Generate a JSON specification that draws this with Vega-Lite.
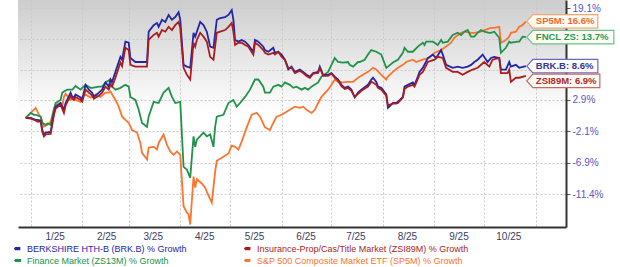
{
"$schema":"https://vega.github.io/schema/vega-lite/v6.json",
"width":548,"height":227,
"autosize":{"type":"none"},
"padding":{"left":18,"top":0,"right":54,"bottom":40},
"background":"#ffffff",
"config":{"view":{"stroke":null,"fill":{"gradient":"linear","x1":0,"y1":0,"x2":0,"y2":1,"stops":[{"offset":0,"color":"#cdcdcd"},{"offset":0.5,"color":"#ffffff"},{"offset":1,"color":"#ffffff"}]}},"font":"Liberation Sans"},
"datasets":{
"ends":[{"s":"sp5","d":"2025-10-26","v":116.6,"t":"SP5M: 16.6%"},{"s":"fin","d":"2025-10-26","v":113.7,"t":"FNCL ZS: 13.7%"},{"s":"brk","d":"2025-10-26","v":108.6,"t":"BRK.B: 8.6%"},{"s":"zsi","d":"2025-10-26","v":106.9,"t":"ZSI89M: 6.9%"}],
"series":[
{"s":"sp5","d":"2024-12-29","v":100},{"s":"sp5","d":"2025-01-01","v":100.8},{"s":"sp5","d":"2025-01-04","v":101.6},{"s":"sp5","d":"2025-01-06","v":100.5},{"s":"sp5","d":"2025-01-07","v":100.2},{"s":"sp5","d":"2025-01-09","v":98.6},{"s":"sp5","d":"2025-01-11","v":98.9},{"s":"sp5","d":"2025-01-13","v":99.4},{"s":"sp5","d":"2025-01-15","v":101.5},{"s":"sp5","d":"2025-01-16","v":102.1},{"s":"sp5","d":"2025-01-19","v":102.4},{"s":"sp5","d":"2025-01-20","v":101.8},{"s":"sp5","d":"2025-01-21","v":103.4},{"s":"sp5","d":"2025-01-22","v":103.9},{"s":"sp5","d":"2025-01-25","v":102.9},{"s":"sp5","d":"2025-01-27","v":103.4},{"s":"sp5","d":"2025-01-28","v":102.9},{"s":"sp5","d":"2025-01-31","v":102.6},{"s":"sp5","d":"2025-02-01","v":103.4},{"s":"sp5","d":"2025-02-03","v":103.8},{"s":"sp5","d":"2025-02-06","v":103.3},{"s":"sp5","d":"2025-02-07","v":103.4},{"s":"sp5","d":"2025-02-09","v":103.8},{"s":"sp5","d":"2025-02-12","v":103.4},{"s":"sp5","d":"2025-02-15","v":104.1},{"s":"sp5","d":"2025-02-17","v":104.1},{"s":"sp5","d":"2025-02-18","v":104.3},{"s":"sp5","d":"2025-02-21","v":102.9},{"s":"sp5","d":"2025-02-23","v":101.8},{"s":"sp5","d":"2025-02-25","v":100.2},{"s":"sp5","d":"2025-03-01","v":99.2},{"s":"sp5","d":"2025-03-03","v":98.1},{"s":"sp5","d":"2025-03-06","v":97.7},{"s":"sp5","d":"2025-03-08","v":96.1},{"s":"sp5","d":"2025-03-09","v":94.6},{"s":"sp5","d":"2025-03-12","v":93.6},{"s":"sp5","d":"2025-03-13","v":95.4},{"s":"sp5","d":"2025-03-16","v":95.5},{"s":"sp5","d":"2025-03-18","v":95.1},{"s":"sp5","d":"2025-03-19","v":96.1},{"s":"sp5","d":"2025-03-22","v":97.4},{"s":"sp5","d":"2025-03-24","v":95.8},{"s":"sp5","d":"2025-03-26","v":94.8},{"s":"sp5","d":"2025-03-28","v":94.3},{"s":"sp5","d":"2025-03-30","v":94.8},{"s":"sp5","d":"2025-04-01","v":94.3},{"s":"sp5","d":"2025-04-03","v":86.9},{"s":"sp5","d":"2025-04-05","v":86.0},{"s":"sp5","d":"2025-04-06","v":85.8},{"s":"sp5","d":"2025-04-07","v":84.4},{"s":"sp5","d":"2025-04-09","v":91.1},{"s":"sp5","d":"2025-04-10","v":89.5},{"s":"sp5","d":"2025-04-11","v":90.7},{"s":"sp5","d":"2025-04-14","v":90.1},{"s":"sp5","d":"2025-04-16","v":89.5},{"s":"sp5","d":"2025-04-17","v":88.9},{"s":"sp5","d":"2025-04-20","v":87.4},{"s":"sp5","d":"2025-04-22","v":91.8},{"s":"sp5","d":"2025-04-23","v":93.4},{"s":"sp5","d":"2025-04-27","v":94.0},{"s":"sp5","d":"2025-04-30","v":94.5},{"s":"sp5","d":"2025-05-02","v":95.7},{"s":"sp5","d":"2025-05-04","v":95.5},{"s":"sp5","d":"2025-05-06","v":95.1},{"s":"sp5","d":"2025-05-08","v":96.3},{"s":"sp5","d":"2025-05-11","v":98.5},{"s":"sp5","d":"2025-05-14","v":100.5},{"s":"sp5","d":"2025-05-17","v":100.8},{"s":"sp5","d":"2025-05-19","v":100.2},{"s":"sp5","d":"2025-05-22","v":98.5},{"s":"sp5","d":"2025-05-25","v":98.1},{"s":"sp5","d":"2025-05-27","v":99.2},{"s":"sp5","d":"2025-05-29","v":100.2},{"s":"sp5","d":"2025-06-01","v":100.5},{"s":"sp5","d":"2025-06-04","v":101.0},{"s":"sp5","d":"2025-06-06","v":101.3},{"s":"sp5","d":"2025-06-09","v":101.8},{"s":"sp5","d":"2025-06-12","v":101.6},{"s":"sp5","d":"2025-06-14","v":101.8},{"s":"sp5","d":"2025-06-16","v":101.3},{"s":"sp5","d":"2025-06-19","v":100.8},{"s":"sp5","d":"2025-06-21","v":101.3},{"s":"sp5","d":"2025-06-23","v":102.4},{"s":"sp5","d":"2025-06-25","v":103.4},{"s":"sp5","d":"2025-06-29","v":104.6},{"s":"sp5","d":"2025-07-01","v":105.4},{"s":"sp5","d":"2025-07-03","v":106.3},{"s":"sp5","d":"2025-07-05","v":105.9},{"s":"sp5","d":"2025-07-08","v":105.8},{"s":"sp5","d":"2025-07-11","v":105.9},{"s":"sp5","d":"2025-07-14","v":105.9},{"s":"sp5","d":"2025-07-17","v":106.6},{"s":"sp5","d":"2025-07-20","v":107.1},{"s":"sp5","d":"2025-07-23","v":107.6},{"s":"sp5","d":"2025-07-26","v":108.3},{"s":"sp5","d":"2025-07-28","v":108.0},{"s":"sp5","d":"2025-07-31","v":107.1},{"s":"sp5","d":"2025-08-03","v":106.3},{"s":"sp5","d":"2025-08-04","v":106.8},{"s":"sp5","d":"2025-08-07","v":107.6},{"s":"sp5","d":"2025-08-10","v":108.3},{"s":"sp5","d":"2025-08-13","v":108.8},{"s":"sp5","d":"2025-08-15","v":109.3},{"s":"sp5","d":"2025-08-19","v":109.7},{"s":"sp5","d":"2025-08-21","v":109.3},{"s":"sp5","d":"2025-08-25","v":109.7},{"s":"sp5","d":"2025-08-27","v":109.9},{"s":"sp5","d":"2025-08-29","v":110.0},{"s":"sp5","d":"2025-09-01","v":110.9},{"s":"sp5","d":"2025-09-05","v":111.4},{"s":"sp5","d":"2025-09-07","v":111.8},{"s":"sp5","d":"2025-09-11","v":112.7},{"s":"sp5","d":"2025-09-13","v":113.6},{"s":"sp5","d":"2025-09-17","v":114.5},{"s":"sp5","d":"2025-09-19","v":114.7},{"s":"sp5","d":"2025-09-23","v":114.5},{"s":"sp5","d":"2025-09-25","v":114.5},{"s":"sp5","d":"2025-09-29","v":114.7},{"s":"sp5","d":"2025-10-01","v":115.0},{"s":"sp5","d":"2025-10-05","v":115.4},{"s":"sp5","d":"2025-10-07","v":115.4},{"s":"sp5","d":"2025-10-10","v":115.6},{"s":"sp5","d":"2025-10-11","v":112.7},{"s":"sp5","d":"2025-10-14","v":113.2},{"s":"sp5","d":"2025-10-16","v":113.8},{"s":"sp5","d":"2025-10-17","v":114.5},{"s":"sp5","d":"2025-10-20","v":114.7},{"s":"sp5","d":"2025-10-22","v":115.6},{"s":"sp5","d":"2025-10-24","v":115.9},{"s":"sp5","d":"2025-10-26","v":116.6},
{"s":"fin","d":"2024-12-29","v":100},{"s":"fin","d":"2025-01-01","v":100.8},{"s":"fin","d":"2025-01-03","v":100.5},{"s":"fin","d":"2025-01-04","v":100.5},{"s":"fin","d":"2025-01-07","v":100.2},{"s":"fin","d":"2025-01-08","v":99.2},{"s":"fin","d":"2025-01-10","v":98.9},{"s":"fin","d":"2025-01-11","v":99.1},{"s":"fin","d":"2025-01-13","v":98.9},{"s":"fin","d":"2025-01-15","v":101.3},{"s":"fin","d":"2025-01-16","v":102.4},{"s":"fin","d":"2025-01-19","v":102.9},{"s":"fin","d":"2025-01-20","v":104.1},{"s":"fin","d":"2025-01-21","v":104.3},{"s":"fin","d":"2025-01-23","v":104.6},{"s":"fin","d":"2025-01-26","v":104.6},{"s":"fin","d":"2025-01-27","v":104.9},{"s":"fin","d":"2025-01-28","v":105.2},{"s":"fin","d":"2025-01-31","v":104.6},{"s":"fin","d":"2025-02-01","v":104.9},{"s":"fin","d":"2025-02-03","v":105.4},{"s":"fin","d":"2025-02-06","v":104.9},{"s":"fin","d":"2025-02-07","v":104.9},{"s":"fin","d":"2025-02-11","v":105.1},{"s":"fin","d":"2025-02-13","v":105.1},{"s":"fin","d":"2025-02-15","v":105.8},{"s":"fin","d":"2025-02-18","v":106.3},{"s":"fin","d":"2025-02-19","v":105.1},{"s":"fin","d":"2025-02-21","v":104.6},{"s":"fin","d":"2025-02-24","v":104.9},{"s":"fin","d":"2025-02-27","v":105.4},{"s":"fin","d":"2025-03-01","v":105.1},{"s":"fin","d":"2025-03-02","v":103.4},{"s":"fin","d":"2025-03-05","v":102.9},{"s":"fin","d":"2025-03-07","v":101.3},{"s":"fin","d":"2025-03-09","v":99.2},{"s":"fin","d":"2025-03-12","v":98.6},{"s":"fin","d":"2025-03-13","v":100.2},{"s":"fin","d":"2025-03-16","v":102.6},{"s":"fin","d":"2025-03-19","v":102.4},{"s":"fin","d":"2025-03-22","v":104.1},{"s":"fin","d":"2025-03-25","v":104.9},{"s":"fin","d":"2025-03-27","v":103.4},{"s":"fin","d":"2025-03-29","v":102.4},{"s":"fin","d":"2025-04-01","v":102.6},{"s":"fin","d":"2025-04-03","v":92.5},{"s":"fin","d":"2025-04-05","v":92.1},{"s":"fin","d":"2025-04-07","v":90.9},{"s":"fin","d":"2025-04-09","v":97.1},{"s":"fin","d":"2025-04-10","v":95.5},{"s":"fin","d":"2025-04-11","v":96.6},{"s":"fin","d":"2025-04-15","v":97.7},{"s":"fin","d":"2025-04-17","v":97.1},{"s":"fin","d":"2025-04-19","v":97.4},{"s":"fin","d":"2025-04-21","v":95.5},{"s":"fin","d":"2025-04-22","v":98.6},{"s":"fin","d":"2025-04-23","v":100.2},{"s":"fin","d":"2025-04-27","v":100.5},{"s":"fin","d":"2025-04-30","v":102.4},{"s":"fin","d":"2025-05-03","v":102.9},{"s":"fin","d":"2025-05-05","v":101.8},{"s":"fin","d":"2025-05-07","v":102.4},{"s":"fin","d":"2025-05-10","v":103.4},{"s":"fin","d":"2025-05-13","v":104.6},{"s":"fin","d":"2025-05-16","v":106.3},{"s":"fin","d":"2025-05-18","v":106.3},{"s":"fin","d":"2025-05-21","v":105.1},{"s":"fin","d":"2025-05-22","v":104.1},{"s":"fin","d":"2025-05-25","v":104.1},{"s":"fin","d":"2025-05-27","v":105.1},{"s":"fin","d":"2025-05-30","v":105.4},{"s":"fin","d":"2025-06-01","v":105.1},{"s":"fin","d":"2025-06-03","v":105.8},{"s":"fin","d":"2025-06-06","v":105.4},{"s":"fin","d":"2025-06-08","v":104.9},{"s":"fin","d":"2025-06-10","v":105.1},{"s":"fin","d":"2025-06-13","v":104.6},{"s":"fin","d":"2025-06-15","v":104.9},{"s":"fin","d":"2025-06-17","v":104.6},{"s":"fin","d":"2025-06-19","v":105.1},{"s":"fin","d":"2025-06-23","v":105.8},{"s":"fin","d":"2025-06-25","v":106.8},{"s":"fin","d":"2025-06-29","v":107.6},{"s":"fin","d":"2025-07-01","v":108.8},{"s":"fin","d":"2025-07-03","v":110.0},{"s":"fin","d":"2025-07-05","v":109.3},{"s":"fin","d":"2025-07-08","v":109.2},{"s":"fin","d":"2025-07-11","v":109.3},{"s":"fin","d":"2025-07-12","v":108.8},{"s":"fin","d":"2025-07-14","v":108.5},{"s":"fin","d":"2025-07-17","v":109.3},{"s":"fin","d":"2025-07-18","v":109.3},{"s":"fin","d":"2025-07-21","v":109.7},{"s":"fin","d":"2025-07-23","v":110.6},{"s":"fin","d":"2025-07-25","v":111.4},{"s":"fin","d":"2025-07-28","v":111.1},{"s":"fin","d":"2025-07-31","v":110.6},{"s":"fin","d":"2025-08-03","v":108.3},{"s":"fin","d":"2025-08-04","v":108.5},{"s":"fin","d":"2025-08-07","v":109.2},{"s":"fin","d":"2025-08-10","v":109.7},{"s":"fin","d":"2025-08-13","v":110.9},{"s":"fin","d":"2025-08-14","v":111.8},{"s":"fin","d":"2025-08-16","v":111.1},{"s":"fin","d":"2025-08-19","v":111.1},{"s":"fin","d":"2025-08-22","v":112.0},{"s":"fin","d":"2025-08-25","v":112.7},{"s":"fin","d":"2025-08-26","v":112.3},{"s":"fin","d":"2025-08-27","v":112.9},{"s":"fin","d":"2025-08-31","v":112.9},{"s":"fin","d":"2025-09-01","v":112.7},{"s":"fin","d":"2025-09-03","v":112.3},{"s":"fin","d":"2025-09-05","v":113.2},{"s":"fin","d":"2025-09-06","v":112.7},{"s":"fin","d":"2025-09-09","v":112.9},{"s":"fin","d":"2025-09-12","v":114.1},{"s":"fin","d":"2025-09-15","v":114.5},{"s":"fin","d":"2025-09-17","v":114.1},{"s":"fin","d":"2025-09-19","v":114.7},{"s":"fin","d":"2025-09-21","v":115.0},{"s":"fin","d":"2025-09-23","v":113.8},{"s":"fin","d":"2025-09-25","v":113.8},{"s":"fin","d":"2025-09-27","v":114.5},{"s":"fin","d":"2025-09-29","v":115.0},{"s":"fin","d":"2025-10-01","v":114.7},{"s":"fin","d":"2025-10-04","v":114.5},{"s":"fin","d":"2025-10-05","v":114.5},{"s":"fin","d":"2025-10-07","v":114.7},{"s":"fin","d":"2025-10-10","v":113.6},{"s":"fin","d":"2025-10-11","v":110.9},{"s":"fin","d":"2025-10-14","v":111.8},{"s":"fin","d":"2025-10-16","v":112.9},{"s":"fin","d":"2025-10-17","v":112.7},{"s":"fin","d":"2025-10-21","v":112.9},{"s":"fin","d":"2025-10-22","v":112.9},{"s":"fin","d":"2025-10-24","v":113.8},{"s":"fin","d":"2025-10-26","v":113.7},
{"s":"brk","d":"2024-12-29","v":100},{"s":"brk","d":"2025-01-01","v":100},{"s":"brk","d":"2025-01-04","v":99.7},{"s":"brk","d":"2025-01-05","v":99.7},{"s":"brk","d":"2025-01-07","v":99.6},{"s":"brk","d":"2025-01-08","v":98.1},{"s":"brk","d":"2025-01-09","v":97.4},{"s":"brk","d":"2025-01-10","v":97.7},{"s":"brk","d":"2025-01-13","v":97.8},{"s":"brk","d":"2025-01-15","v":100.8},{"s":"brk","d":"2025-01-16","v":101.8},{"s":"brk","d":"2025-01-19","v":102.4},{"s":"brk","d":"2025-01-21","v":101.3},{"s":"brk","d":"2025-01-22","v":102.4},{"s":"brk","d":"2025-01-25","v":104.1},{"s":"brk","d":"2025-01-26","v":103.4},{"s":"brk","d":"2025-01-27","v":103.3},{"s":"brk","d":"2025-01-28","v":103.8},{"s":"brk","d":"2025-01-31","v":103.3},{"s":"brk","d":"2025-02-01","v":102.9},{"s":"brk","d":"2025-02-03","v":105.4},{"s":"brk","d":"2025-02-05","v":104.6},{"s":"brk","d":"2025-02-07","v":104.1},{"s":"brk","d":"2025-02-08","v":103.4},{"s":"brk","d":"2025-02-11","v":104.1},{"s":"brk","d":"2025-02-13","v":104.6},{"s":"brk","d":"2025-02-15","v":105.8},{"s":"brk","d":"2025-02-17","v":105.1},{"s":"brk","d":"2025-02-18","v":106.3},{"s":"brk","d":"2025-02-19","v":105.9},{"s":"brk","d":"2025-02-21","v":107.6},{"s":"brk","d":"2025-02-24","v":110.2},{"s":"brk","d":"2025-02-25","v":109.7},{"s":"brk","d":"2025-02-27","v":112.9},{"s":"brk","d":"2025-03-01","v":112.7},{"s":"brk","d":"2025-03-02","v":110.0},{"s":"brk","d":"2025-03-05","v":109.3},{"s":"brk","d":"2025-03-07","v":109.3},{"s":"brk","d":"2025-03-09","v":109.3},{"s":"brk","d":"2025-03-12","v":109.3},{"s":"brk","d":"2025-03-13","v":114.7},{"s":"brk","d":"2025-03-16","v":115.9},{"s":"brk","d":"2025-03-18","v":116.3},{"s":"brk","d":"2025-03-19","v":115.6},{"s":"brk","d":"2025-03-21","v":116.9},{"s":"brk","d":"2025-03-23","v":116.5},{"s":"brk","d":"2025-03-25","v":117.8},{"s":"brk","d":"2025-03-27","v":116.9},{"s":"brk","d":"2025-03-29","v":117.4},{"s":"brk","d":"2025-03-31","v":118.3},{"s":"brk","d":"2025-04-01","v":116.9},{"s":"brk","d":"2025-04-03","v":108.8},{"s":"brk","d":"2025-04-05","v":108.5},{"s":"brk","d":"2025-04-07","v":108.3},{"s":"brk","d":"2025-04-09","v":114.5},{"s":"brk","d":"2025-04-10","v":113.8},{"s":"brk","d":"2025-04-11","v":114.7},{"s":"brk","d":"2025-04-13","v":116.5},{"s":"brk","d":"2025-04-15","v":115.9},{"s":"brk","d":"2025-04-17","v":114.7},{"s":"brk","d":"2025-04-19","v":112.0},{"s":"brk","d":"2025-04-21","v":111.8},{"s":"brk","d":"2025-04-23","v":116.9},{"s":"brk","d":"2025-04-25","v":117.2},{"s":"brk","d":"2025-04-28","v":117.4},{"s":"brk","d":"2025-04-30","v":117.8},{"s":"brk","d":"2025-05-02","v":118.7},{"s":"brk","d":"2025-05-03","v":116.9},{"s":"brk","d":"2025-05-04","v":113.2},{"s":"brk","d":"2025-05-06","v":112.9},{"s":"brk","d":"2025-05-08","v":113.2},{"s":"brk","d":"2025-05-10","v":112.9},{"s":"brk","d":"2025-05-12","v":112.3},{"s":"brk","d":"2025-05-15","v":111.1},{"s":"brk","d":"2025-05-16","v":113.2},{"s":"brk","d":"2025-05-18","v":112.9},{"s":"brk","d":"2025-05-21","v":112.0},{"s":"brk","d":"2025-05-22","v":111.4},{"s":"brk","d":"2025-05-24","v":111.1},{"s":"brk","d":"2025-05-27","v":111.8},{"s":"brk","d":"2025-05-28","v":110.9},{"s":"brk","d":"2025-05-30","v":111.1},{"s":"brk","d":"2025-06-01","v":110.6},{"s":"brk","d":"2025-06-03","v":109.7},{"s":"brk","d":"2025-06-05","v":108.0},{"s":"brk","d":"2025-06-07","v":108.5},{"s":"brk","d":"2025-06-09","v":107.6},{"s":"brk","d":"2025-06-12","v":108.0},{"s":"brk","d":"2025-06-14","v":107.6},{"s":"brk","d":"2025-06-16","v":107.1},{"s":"brk","d":"2025-06-18","v":106.8},{"s":"brk","d":"2025-06-20","v":107.4},{"s":"brk","d":"2025-06-23","v":107.6},{"s":"brk","d":"2025-06-24","v":108.5},{"s":"brk","d":"2025-06-26","v":107.1},{"s":"brk","d":"2025-06-29","v":107.1},{"s":"brk","d":"2025-07-01","v":107.4},{"s":"brk","d":"2025-07-03","v":106.8},{"s":"brk","d":"2025-07-05","v":106.3},{"s":"brk","d":"2025-07-07","v":105.4},{"s":"brk","d":"2025-07-09","v":104.9},{"s":"brk","d":"2025-07-11","v":105.1},{"s":"brk","d":"2025-07-13","v":104.6},{"s":"brk","d":"2025-07-15","v":103.3},{"s":"brk","d":"2025-07-17","v":104.1},{"s":"brk","d":"2025-07-19","v":104.6},{"s":"brk","d":"2025-07-23","v":105.4},{"s":"brk","d":"2025-07-25","v":106.3},{"s":"brk","d":"2025-07-26","v":106.6},{"s":"brk","d":"2025-07-28","v":105.9},{"s":"brk","d":"2025-07-29","v":105.1},{"s":"brk","d":"2025-07-31","v":104.9},{"s":"brk","d":"2025-08-03","v":103.8},{"s":"brk","d":"2025-08-04","v":101.6},{"s":"brk","d":"2025-08-07","v":102.4},{"s":"brk","d":"2025-08-09","v":102.4},{"s":"brk","d":"2025-08-10","v":102.6},{"s":"brk","d":"2025-08-13","v":103.4},{"s":"brk","d":"2025-08-14","v":105.1},{"s":"brk","d":"2025-08-16","v":105.4},{"s":"brk","d":"2025-08-19","v":105.8},{"s":"brk","d":"2025-08-20","v":105.4},{"s":"brk","d":"2025-08-22","v":106.8},{"s":"brk","d":"2025-08-23","v":107.6},{"s":"brk","d":"2025-08-25","v":108.3},{"s":"brk","d":"2025-08-28","v":110.0},{"s":"brk","d":"2025-08-31","v":110.6},{"s":"brk","d":"2025-09-02","v":110.0},{"s":"brk","d":"2025-09-05","v":111.4},{"s":"brk","d":"2025-09-06","v":110.6},{"s":"brk","d":"2025-09-08","v":108.8},{"s":"brk","d":"2025-09-12","v":108.3},{"s":"brk","d":"2025-09-15","v":108.5},{"s":"brk","d":"2025-09-18","v":108.3},{"s":"brk","d":"2025-09-21","v":108.5},{"s":"brk","d":"2025-09-23","v":108.8},{"s":"brk","d":"2025-09-25","v":109.3},{"s":"brk","d":"2025-09-27","v":109.7},{"s":"brk","d":"2025-09-30","v":110.6},{"s":"brk","d":"2025-10-03","v":109.3},{"s":"brk","d":"2025-10-05","v":110.0},{"s":"brk","d":"2025-10-07","v":110.2},{"s":"brk","d":"2025-10-10","v":110.0},{"s":"brk","d":"2025-10-11","v":108.0},{"s":"brk","d":"2025-10-14","v":108.0},{"s":"brk","d":"2025-10-16","v":109.3},{"s":"brk","d":"2025-10-17","v":108.5},{"s":"brk","d":"2025-10-20","v":108.8},{"s":"brk","d":"2025-10-22","v":108.3},{"s":"brk","d":"2025-10-26","v":108.6},
{"s":"zsi","d":"2024-12-29","v":100},{"s":"zsi","d":"2025-01-01","v":99.9},{"s":"zsi","d":"2025-01-04","v":99.6},{"s":"zsi","d":"2025-01-05","v":99.4},{"s":"zsi","d":"2025-01-07","v":99.4},{"s":"zsi","d":"2025-01-08","v":97.8},{"s":"zsi","d":"2025-01-09","v":97.1},{"s":"zsi","d":"2025-01-10","v":97.4},{"s":"zsi","d":"2025-01-13","v":97.5},{"s":"zsi","d":"2025-01-15","v":100.5},{"s":"zsi","d":"2025-01-16","v":101.5},{"s":"zsi","d":"2025-01-19","v":102.1},{"s":"zsi","d":"2025-01-21","v":100.8},{"s":"zsi","d":"2025-01-22","v":102.0},{"s":"zsi","d":"2025-01-25","v":103.6},{"s":"zsi","d":"2025-01-26","v":103.1},{"s":"zsi","d":"2025-01-27","v":102.9},{"s":"zsi","d":"2025-01-28","v":103.4},{"s":"zsi","d":"2025-01-31","v":102.9},{"s":"zsi","d":"2025-02-01","v":102.6},{"s":"zsi","d":"2025-02-03","v":104.6},{"s":"zsi","d":"2025-02-05","v":104.1},{"s":"zsi","d":"2025-02-07","v":103.6},{"s":"zsi","d":"2025-02-08","v":103.1},{"s":"zsi","d":"2025-02-11","v":103.6},{"s":"zsi","d":"2025-02-13","v":104.1},{"s":"zsi","d":"2025-02-15","v":105.1},{"s":"zsi","d":"2025-02-17","v":104.6},{"s":"zsi","d":"2025-02-18","v":105.4},{"s":"zsi","d":"2025-02-19","v":105.1},{"s":"zsi","d":"2025-02-21","v":106.6},{"s":"zsi","d":"2025-02-24","v":109.2},{"s":"zsi","d":"2025-02-25","v":108.6},{"s":"zsi","d":"2025-02-27","v":111.8},{"s":"zsi","d":"2025-03-01","v":111.4},{"s":"zsi","d":"2025-03-02","v":108.8},{"s":"zsi","d":"2025-03-05","v":108.5},{"s":"zsi","d":"2025-03-07","v":108.5},{"s":"zsi","d":"2025-03-09","v":108.5},{"s":"zsi","d":"2025-03-12","v":108.5},{"s":"zsi","d":"2025-03-13","v":113.2},{"s":"zsi","d":"2025-03-16","v":114.1},{"s":"zsi","d":"2025-03-18","v":114.5},{"s":"zsi","d":"2025-03-19","v":113.8},{"s":"zsi","d":"2025-03-21","v":115.0},{"s":"zsi","d":"2025-03-23","v":114.7},{"s":"zsi","d":"2025-03-25","v":115.6},{"s":"zsi","d":"2025-03-27","v":115.0},{"s":"zsi","d":"2025-03-29","v":115.9},{"s":"zsi","d":"2025-03-31","v":116.5},{"s":"zsi","d":"2025-04-01","v":115.4},{"s":"zsi","d":"2025-04-03","v":108.3},{"s":"zsi","d":"2025-04-05","v":107.1},{"s":"zsi","d":"2025-04-07","v":106.3},{"s":"zsi","d":"2025-04-09","v":112.7},{"s":"zsi","d":"2025-04-10","v":112.0},{"s":"zsi","d":"2025-04-11","v":113.2},{"s":"zsi","d":"2025-04-13","v":114.5},{"s":"zsi","d":"2025-04-15","v":113.8},{"s":"zsi","d":"2025-04-17","v":112.9},{"s":"zsi","d":"2025-04-19","v":110.2},{"s":"zsi","d":"2025-04-21","v":109.7},{"s":"zsi","d":"2025-04-23","v":114.5},{"s":"zsi","d":"2025-04-25","v":114.7},{"s":"zsi","d":"2025-04-28","v":115.0},{"s":"zsi","d":"2025-04-30","v":115.6},{"s":"zsi","d":"2025-05-02","v":116.3},{"s":"zsi","d":"2025-05-03","v":114.7},{"s":"zsi","d":"2025-05-04","v":112.3},{"s":"zsi","d":"2025-05-06","v":112.7},{"s":"zsi","d":"2025-05-08","v":112.7},{"s":"zsi","d":"2025-05-10","v":112.3},{"s":"zsi","d":"2025-05-12","v":112.0},{"s":"zsi","d":"2025-05-15","v":110.6},{"s":"zsi","d":"2025-05-16","v":112.7},{"s":"zsi","d":"2025-05-18","v":112.3},{"s":"zsi","d":"2025-05-21","v":111.4},{"s":"zsi","d":"2025-05-22","v":110.9},{"s":"zsi","d":"2025-05-24","v":110.6},{"s":"zsi","d":"2025-05-27","v":110.9},{"s":"zsi","d":"2025-05-28","v":110.6},{"s":"zsi","d":"2025-05-30","v":111.1},{"s":"zsi","d":"2025-06-01","v":110.2},{"s":"zsi","d":"2025-06-03","v":109.7},{"s":"zsi","d":"2025-06-05","v":108.3},{"s":"zsi","d":"2025-06-07","v":108.3},{"s":"zsi","d":"2025-06-09","v":107.4},{"s":"zsi","d":"2025-06-12","v":107.8},{"s":"zsi","d":"2025-06-14","v":107.4},{"s":"zsi","d":"2025-06-16","v":106.9},{"s":"zsi","d":"2025-06-18","v":106.6},{"s":"zsi","d":"2025-06-20","v":107.3},{"s":"zsi","d":"2025-06-23","v":107.4},{"s":"zsi","d":"2025-06-24","v":108.3},{"s":"zsi","d":"2025-06-26","v":106.9},{"s":"zsi","d":"2025-06-29","v":106.9},{"s":"zsi","d":"2025-07-01","v":107.3},{"s":"zsi","d":"2025-07-03","v":106.6},{"s":"zsi","d":"2025-07-05","v":106.1},{"s":"zsi","d":"2025-07-07","v":105.2},{"s":"zsi","d":"2025-07-09","v":104.7},{"s":"zsi","d":"2025-07-11","v":104.9},{"s":"zsi","d":"2025-07-13","v":104.4},{"s":"zsi","d":"2025-07-15","v":103.4},{"s":"zsi","d":"2025-07-17","v":103.9},{"s":"zsi","d":"2025-07-19","v":104.4},{"s":"zsi","d":"2025-07-23","v":105.1},{"s":"zsi","d":"2025-07-25","v":105.9},{"s":"zsi","d":"2025-07-26","v":105.8},{"s":"zsi","d":"2025-07-28","v":105.4},{"s":"zsi","d":"2025-07-29","v":104.9},{"s":"zsi","d":"2025-07-31","v":104.6},{"s":"zsi","d":"2025-08-03","v":103.6},{"s":"zsi","d":"2025-08-04","v":102.0},{"s":"zsi","d":"2025-08-07","v":102.3},{"s":"zsi","d":"2025-08-09","v":102.3},{"s":"zsi","d":"2025-08-10","v":102.4},{"s":"zsi","d":"2025-08-13","v":103.3},{"s":"zsi","d":"2025-08-14","v":104.7},{"s":"zsi","d":"2025-08-16","v":105.1},{"s":"zsi","d":"2025-08-19","v":105.4},{"s":"zsi","d":"2025-08-20","v":105.1},{"s":"zsi","d":"2025-08-22","v":106.4},{"s":"zsi","d":"2025-08-23","v":107.1},{"s":"zsi","d":"2025-08-25","v":107.6},{"s":"zsi","d":"2025-08-28","v":109.3},{"s":"zsi","d":"2025-09-01","v":109.7},{"s":"zsi","d":"2025-09-03","v":110.2},{"s":"zsi","d":"2025-09-06","v":110.0},{"s":"zsi","d":"2025-09-08","v":108.3},{"s":"zsi","d":"2025-09-12","v":107.6},{"s":"zsi","d":"2025-09-15","v":107.6},{"s":"zsi","d":"2025-09-18","v":107.1},{"s":"zsi","d":"2025-09-21","v":107.6},{"s":"zsi","d":"2025-09-24","v":108.0},{"s":"zsi","d":"2025-09-27","v":108.3},{"s":"zsi","d":"2025-10-01","v":109.3},{"s":"zsi","d":"2025-10-04","v":108.5},{"s":"zsi","d":"2025-10-06","v":109.7},{"s":"zsi","d":"2025-10-10","v":110.0},{"s":"zsi","d":"2025-10-11","v":107.4},{"s":"zsi","d":"2025-10-15","v":107.4},{"s":"zsi","d":"2025-10-16","v":108.0},{"s":"zsi","d":"2025-10-17","v":105.9},{"s":"zsi","d":"2025-10-20","v":106.6},{"s":"zsi","d":"2025-10-22","v":106.6},{"s":"zsi","d":"2025-10-26","v":106.9}
]},
"layer":[
{"data":{"name":"series"},"mark":{"type":"line","strokeWidth":1.8},
 "encoding":{
  "x":{"field":"d","type":"temporal","scale":{"type":"utc","domain":[{"year":2024,"month":12,"date":24,"hours":8,"minutes":34,"utc":true},{"year":2025,"month":11,"date":19,"hours":4,"utc":true}]},
   "axis":{"title":null,"values":[{"year":2025,"month":1,"date":1,"utc":true},{"year":2025,"month":2,"date":1,"utc":true},{"year":2025,"month":3,"date":1,"utc":true},{"year":2025,"month":4,"date":1,"utc":true},{"year":2025,"month":5,"date":1,"utc":true},{"year":2025,"month":6,"date":1,"utc":true},{"year":2025,"month":7,"date":1,"utc":true},{"year":2025,"month":8,"date":1,"utc":true},{"year":2025,"month":9,"date":1,"utc":true},{"year":2025,"month":10,"date":1,"utc":true},{"year":2025,"month":11,"date":1,"utc":true}],
   "labelExpr":"utcmonth(datum.value) == 10 ? '' : utcFormat(datum.value, '%-m/%y')","labelOffset":24,"labelColor":"#3c3c5c","labelFontSize":10,"ticks":false,"grid":true,"gridColor":"#c8c8c8","gridDash":[2,2],"domainColor":"#333333","domainWidth":2,"labelPadding":4,"labelFlush":false,"labelOverlap":false,"labelBound":false}},
  "y":{"field":"v","type":"quantitative","scale":{"type":"log","domain":[84.07,120.63],"nice":false,"zero":false},
   "axis":{"title":null,"orient":"right","values":[88.6,93.1,97.9,102.9,108.0,113.4,119.1],
   "labelExpr":"datum.value > 105 && datum.value < 116 ? '' : ((datum.value < 100 ? '-' + format(100 - datum.value, '.1f') : format(datum.value - 100, '.1f')) + '%')",
   "grid":true,"gridColor":"#c8c8c8","gridDash":[2,2],"domainColor":"#333333","domainWidth":2,"tickColor":"#555555","tickSize":4,"labelColor":"#5555c8","labelFontSize":10,"labelPadding":2}},
  "color":{"field":"s","type":"nominal","scale":{"domain":["brk","zsi","fin","sp5"],"range":["#2424a8","#a81e1e","#20924a","#fb7430"]},
   "legend":{"title":null,"orient":"none","legendX":-7,"legendY":244,"columns":2,"direction":"horizontal","padding":0,"symbolType":"stroke","symbolSize":25,"symbolStrokeWidth":2.5,"labelFont":"Liberation Sans","labelFontSize":9,"labelLimit":400,"labelOffset":7,"columnPadding":53,"rowPadding":1,
    "labelExpr":"datum.label == 'brk' ? 'BERKSHIRE HTH-B (BRK.B) % Growth' : datum.label == 'zsi' ? 'Insurance-Prop/Cas/Title Market (ZSI89M) % Growth' : datum.label == 'fin' ? 'Finance Market (ZS13M) % Growth' : 'S&P 500 Composite Market ETF (SP5M) % Growth'",
    "encode":{"labels":{"update":{"fill":{"scale":"color","field":"value"}}}}}}
 }},
{"data":{"name":"ends"},"transform":[{"filter":"datum.s != 'zsi'"}],"mark":{"type":"point","filled":true,"fill":"#fbfbf3","strokeWidth":1.2,"size":10000,"opacity":1},
 "encoding":{"x":{"field":"d","type":"temporal"},"y":{"field":"v","type":"quantitative"},
  "shape":{"field":"s","type":"nominal","scale":{"domain":["brk","zsi","fin","sp5"],"range":["M0.02,0L0.14,-0.135L1.44,-0.135L1.44,0.135L0.14,0.135Z","M0.02,0L0.14,-0.135L1.48,-0.135L1.48,0.135L0.14,0.135Z","M0.02,0L0.14,-0.135L1.76,-0.135L1.76,0.135L0.14,0.135Z","M0.02,0L0.14,-0.135L1.44,-0.135L1.44,0.135L0.14,0.135Z"]},"legend":null},
  "stroke":{"field":"s","type":"nominal","scale":{"domain":["brk","zsi","fin","sp5"],"range":["#6a6ac4","#c46a6a","#6cc08c","#f6a57a"]},"legend":null}}},
{"data":{"name":"ends"},"transform":[{"filter":"datum.s == 'zsi'"}],"mark":{"type":"point","filled":true,"fill":"#fbfbf3","strokeWidth":1.2,"size":10000,"opacity":1,"yOffset":5},
 "encoding":{"x":{"field":"d","type":"temporal"},"y":{"field":"v","type":"quantitative"},
  "shape":{"field":"s","type":"nominal","legend":null},
  "stroke":{"field":"s","type":"nominal","legend":null}}},
{"data":{"name":"ends"},"transform":[{"filter":"datum.s != 'zsi'"}],"mark":{"type":"text","align":"left","baseline":"middle","dx":10,"fontSize":9.5,"fontWeight":"bold","font":"Liberation Sans"},
 "encoding":{"x":{"field":"d","type":"temporal"},"y":{"field":"v","type":"quantitative"},"text":{"field":"t"},
  "fill":{"field":"s","type":"nominal","scale":{"domain":["brk","zsi","fin","sp5"],"range":["#3535a0","#b02a2a","#2a9a50","#ee6a2a"]},"legend":null}}},
{"data":{"name":"ends"},"transform":[{"filter":"datum.s == 'zsi'"}],"mark":{"type":"text","align":"left","baseline":"middle","dx":10,"dy":5,"fontSize":9.5,"fontWeight":"bold","font":"Liberation Sans"},
 "encoding":{"x":{"field":"d","type":"temporal"},"y":{"field":"v","type":"quantitative"},"text":{"field":"t"},
  "fill":{"field":"s","type":"nominal","legend":null}}}
]
}
